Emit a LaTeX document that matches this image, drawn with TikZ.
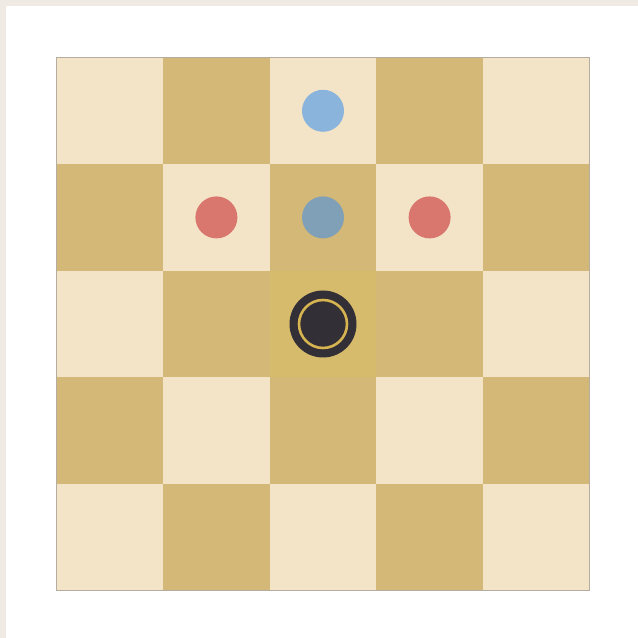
\documentclass[tikz,border=0pt]{standalone}
\usepackage{tikz}
\usetikzlibrary{positioning}
\definecolor{boardlight}{RGB}{243, 228, 200}
\definecolor{boarddark}{RGB}{211, 184, 120}
\definecolor{boardhigh}{RGB}{214, 187, 108}
\definecolor{frameedge}{RGB}{181, 173, 160}
\definecolor{pagegray}{RGB}{239, 235, 228}
\definecolor{moveblue}{RGB}{138, 180, 220}
\definecolor{movedim}{RGB}{127, 160, 182}
\definecolor{capred}{RGB}{217, 119, 110}
\definecolor{stoneblack}{RGB}{51, 47, 54}
\definecolor{ringgold}{RGB}{214, 180, 80}

\begin{document}
\begin{tikzpicture}[
        x=1pt, y=1pt,
        cell/.style={rectangle, minimum size=106.6pt, inner sep=0pt, draw=none},
        dot/.style={circle, minimum size=42pt, inner sep=0pt},
        stone/.style={circle, minimum size=67pt, inner sep=0pt, fill=stoneblack},
        ring/.style={circle, minimum size=48pt, inner sep=0pt, draw=ringgold, line width=2.6pt}
    ]
        \useasboundingbox (0,0) rectangle (638,638);
        \fill[white] (0,0) rectangle (638,638);
        \fill[pagegray] (0,632) rectangle (638,638);
        \fill[pagegray] (0,0) rectangle (6,638);

        % board squares, row 0 at the top
        \foreach \r in {0,...,4} {
            \foreach \c in {0,...,4} {
                \pgfmathtruncatemacro{\odd}{mod(\r+\c,2)}
                \ifnum\odd=1
                    \node[cell, fill=boarddark] (sq-\r-\c) at ({56.5+106.6*(\c+0.5)}, {580.5-106.6*(\r+0.5)}) {};
                \else
                    \node[cell, fill=boardlight] (sq-\r-\c) at ({56.5+106.6*(\c+0.5)}, {580.5-106.6*(\r+0.5)}) {};
                \fi
            }
        }
        \node[cell, fill=boardhigh] (sq-2-2) at (323, 314.0) {};
        \draw[frameedge, line width=0.8pt] (56.5,47.5) rectangle (589.5,580.5);

        % targets
        \node[dot, fill=moveblue] (move-a) at (sq-0-2) {};
        \node[dot, fill=movedim] (move-b) at (sq-1-2) {};
        \node[dot, fill=capred] (cap-a) at (sq-1-1) {};
        \node[dot, fill=capred] (cap-b) at (sq-1-3) {};

        % selected piece
        \node[stone] (piece) at (sq-2-2) {};
        \node[ring] (piece-ring) at (piece) {};
    \end{tikzpicture}
\end{document}
